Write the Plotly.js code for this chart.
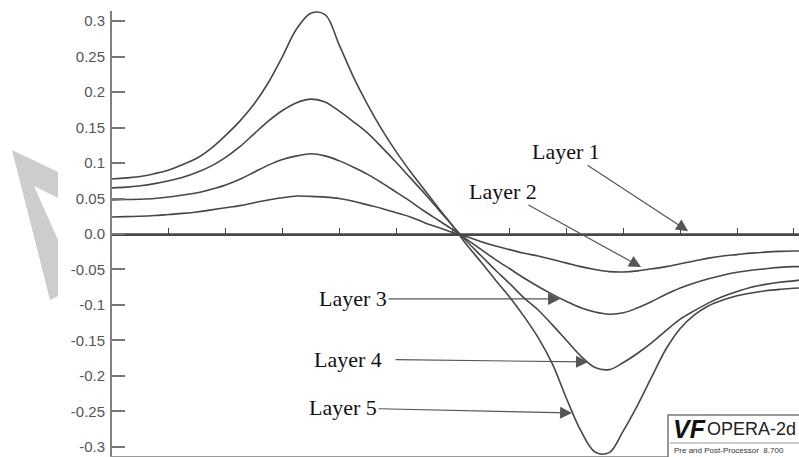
<!DOCTYPE html>
<html>
<head>
<meta charset="utf-8">
<script src="https://cdn.plot.ly/plotly-3.0.1.min.js"></script>
<style>html,body{margin:0;padding:0;background:#fff;}#chart{width:799px;height:457px;}</style>
</head>
<body>
<div id="chart"></div>
<script>
// ---- data ----
const xPos = [0, 2.5, 5, 7.5, 10, 12.5, 15, 17.5, 20, 22.5, 25, 27.5, 30, 32.5, 35, 37.5, 40, 42.5, 45, 47.5,
  50, 52.5, 55, 57.5, 60, 62.5, 65, 67.5, 70, 72.5, 75, 77.5, 80, 82.5, 85, 87.5, 90, 92.5, 95, 97.5,
  100, 102.5, 105, 107.5, 110, 112.5, 115, 117.5, 120, 120.9];

const layer1 = xPos.map(() => 0);

const layer2 = [0.024, 0.0245, 0.025, 0.026, 0.0275, 0.029, 0.031, 0.034, 0.037, 0.040, 0.044, 0.048, 0.051, 0.0535, 0.053, 0.052, 0.050, 0.046, 0.041, 0.036,
  0.030, 0.024, 0.016, 0.009, 0.002, -0.004, -0.011, -0.017, -0.022, -0.027, -0.031, -0.036, -0.041, -0.046, -0.050, -0.053, -0.0535, -0.052, -0.049, -0.046,
  -0.042, -0.038, -0.034, -0.031, -0.029, -0.027, -0.0255, -0.0245, -0.024, -0.024];

const layer3 = [0.048, 0.0485, 0.049, 0.050, 0.052, 0.055, 0.058, 0.063, 0.069, 0.077, 0.087, 0.097, 0.105, 0.110, 0.113, 0.110, 0.103, 0.094, 0.084, 0.072,
  0.059, 0.046, 0.032, 0.019, 0.006, -0.008, -0.022, -0.036, -0.049, -0.062, -0.074, -0.085, -0.095, -0.104, -0.110, -0.113, -0.111, -0.104, -0.095, -0.085,
  -0.076, -0.069, -0.063, -0.058, -0.054, -0.051, -0.049, -0.047, -0.046, -0.046];

const layer4 = [0.065, 0.066, 0.068, 0.071, 0.075, 0.080, 0.087, 0.096, 0.108, 0.123, 0.141, 0.159, 0.174, 0.185, 0.190, 0.186, 0.173, 0.158, 0.142, 0.122,
  0.101, 0.079, 0.057, 0.034, 0.011, -0.011, -0.031, -0.051, -0.070, -0.090, -0.107, -0.128, -0.150, -0.172, -0.188, -0.191, -0.181, -0.168, -0.153, -0.136,
  -0.120, -0.108, -0.097, -0.088, -0.081, -0.075, -0.071, -0.068, -0.066, -0.065];

const layer5 = [0.0775, 0.079, 0.081, 0.085, 0.090, 0.098, 0.107, 0.121, 0.139, 0.159, 0.183, 0.213, 0.250, 0.289, 0.311, 0.309, 0.266, 0.221, 0.182, 0.147,
  0.116, 0.088, 0.062, 0.036, 0.011, -0.016, -0.040, -0.065, -0.089, -0.116, -0.146, -0.183, -0.232, -0.277, -0.307, -0.308, -0.277, -0.241, -0.201, -0.162,
  -0.133, -0.114, -0.101, -0.093, -0.087, -0.083, -0.080, -0.078, -0.0765, -0.076];

const yTickVals = [0.3, 0.25, 0.2, 0.15, 0.1, 0.05, 0, -0.05, -0.1, -0.15, -0.2, -0.25, -0.3];
const yTickText = ['0.3', '0.25', '0.2', '0.15', '0.1', '0.05', '0.0', '-0.05', '-0.1', '-0.15', '-0.2', '-0.25', '-0.3'];
const xMinorTicks = [10, 20, 30, 40, 50, 60, 70, 80, 90, 100, 110, 120];

const layerNames = ['Layer 1', 'Layer 2', 'Layer 3', 'Layer 4', 'Layer 5'];
// arrow tip positions (on the curves) in data units
const tipX = [101.4, 93.1, 78.85, 83.77, 80.96];
const tipY = [0.004, -0.0465, -0.0915, -0.1803, -0.2521];

// ---- layout helpers ----
const L = 112, T = 11, W = 687, H = 445;
const YMAX = 0.3141, YMIN = -0.3127;
function px(x) { return (x - L) / W; }
function py(y) { return (T + H - y) / H; }

const lineStyle = {color: '#474747', width: 1.6, shape: 'spline', smoothing: 1};

const traces = [
  {x: xPos, y: layer1, xaxis: 'x2', yaxis: 'y', mode: 'lines', name: layerNames[0], line: {color: '#474747', width: 1.6}, hoverinfo: 'skip'},
  {x: xPos, y: layer2, mode: 'lines', name: layerNames[1], line: lineStyle},
  {x: xPos, y: layer3, mode: 'lines', name: layerNames[2], line: lineStyle},
  {x: xPos, y: layer4, mode: 'lines', name: layerNames[3], line: lineStyle},
  {x: xPos, y: layer5, mode: 'lines', name: layerNames[4], line: lineStyle}
];

// label offsets (pixels, text centre relative to arrow tip)
const labelAX = [-122, -138, -207, -240, -229];
const labelAY = [-80, -76, 0, -3, -5];
const startGap = [0, 0, 0, 12, 0];

const annotations = layerNames.map((name, i) => ({
  x: tipX[i], y: tipY[i], xref: 'x', yref: 'y',
  text: name, showarrow: true, arrowhead: 2, arrowsize: 2, arrowwidth: 1.2,
  arrowcolor: '#555', ax: labelAX[i], ay: labelAY[i], startstandoff: startGap[i],
  font: {family: 'Liberation Serif, Times New Roman, serif', size: 22, color: '#111'}
}));

annotations.push(
  {xref: 'paper', yref: 'paper', x: px(671), y: py(429), xanchor: 'left', yanchor: 'middle', showarrow: false,
   text: '<b><i>VF</i></b>', font: {family: 'Liberation Sans, Arial, sans-serif', size: 25, color: '#111'}},
  {xref: 'paper', yref: 'paper', x: px(705), y: py(429), xanchor: 'left', yanchor: 'middle', showarrow: false,
   text: 'OPERA-2d', font: {family: 'Liberation Sans, Arial, sans-serif', size: 18, color: '#222'}},
  {xref: 'paper', yref: 'paper', x: px(672), y: py(450), xanchor: 'left', yanchor: 'middle', showarrow: false,
   text: 'Pre and Post-Processor  8.700', font: {family: 'Liberation Sans, Arial, sans-serif', size: 8, color: '#333'}}
);

const shapes = [
  // faint watermark at the left
  {type: 'path', xref: 'paper', yref: 'paper', layer: 'below', line: {width: 0}, fillcolor: '#cdcdcd',
   path: 'M' + px(12) + ',' + py(150) + ' L' + px(58) + ',' + py(172) + ' L' + px(58) + ',' + py(198) +
         ' L' + px(34) + ',' + py(186) + ' L' + px(58) + ',' + py(240) + ' L' + px(58) + ',' + py(296) +
         ' L' + px(50) + ',' + py(300) + ' Z'},
  // logo box
  {type: 'rect', xref: 'paper', yref: 'paper', x0: px(668), x1: px(806), y0: py(415), y1: py(460),
   line: {color: '#777', width: 1.5}, fillcolor: '#fff'},
  {type: 'line', xref: 'paper', yref: 'paper', x0: px(670), x1: px(806), y0: py(443), y1: py(443),
   line: {color: '#999', width: 1}}
];

const layout = {
  width: 799, height: 457,
  margin: {l: L, r: 0, t: T, b: 1, pad: 0},
  paper_bgcolor: '#fff', plot_bgcolor: '#fff',
  showlegend: false,
  xaxis: {range: [0, 120.9], showline: true, linecolor: '#999', linewidth: 2, ticks: '', showticklabels: false,
          showgrid: false, zeroline: false, fixedrange: true},
  xaxis2: {overlaying: 'x', anchor: 'free', position: (0 - YMIN) / (YMAX - YMIN), side: 'bottom',
           range: [0, 120.9], showline: true, linecolor: '#474747', linewidth: 1.6,
           ticks: 'inside', tickvals: xMinorTicks, ticklen: 6, tickwidth: 1, tickcolor: '#444',
           showticklabels: false, showgrid: false, zeroline: false},
  yaxis: {range: [YMIN, YMAX], tickvals: yTickVals, ticktext: yTickText, ticks: 'inside', ticklen: 13,
          tickwidth: 2, tickcolor: '#777', showline: true, linecolor: '#808080', linewidth: 2,
          showgrid: false, zeroline: false, ticklabelstandoff: 2,
          tickfont: {family: 'Liberation Sans, Arial, sans-serif', size: 15, color: '#555'}},
  annotations: annotations,
  shapes: shapes
};

Plotly.newPlot('chart', traces, layout, {staticPlot: true});
</script>
</body>
</html>
